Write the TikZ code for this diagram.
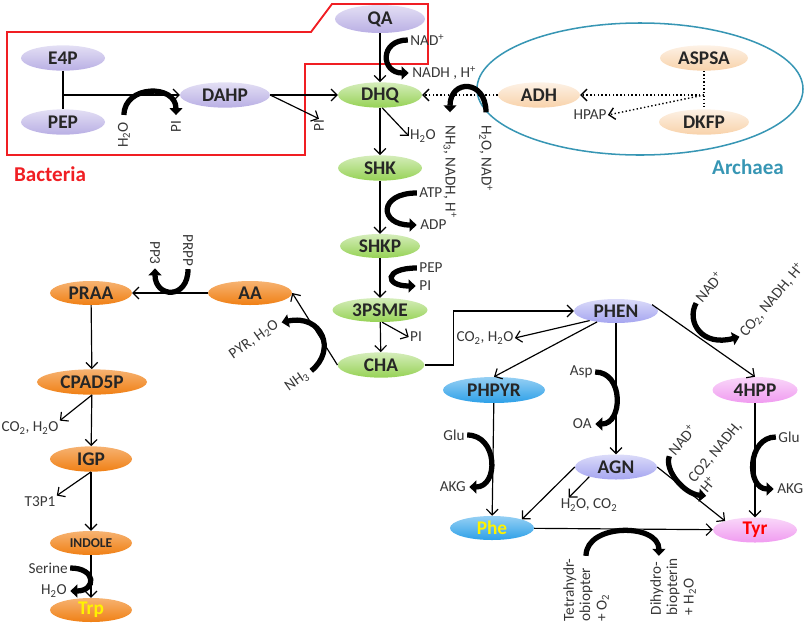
\documentclass[tikz,border=0pt]{standalone}
\usepackage{fontspec}
\setmainfont{Carlito}
\usepackage{tikz}
\usetikzlibrary{arrows.meta,shapes.geometric,positioning}
\definecolor{bactred}{RGB}{240,30,35}
\definecolor{archteal}{RGB}{55,150,180}
\definecolor{lblgray}{RGB}{55,55,55}
\definecolor{purpc}{RGB}{185,175,228}
\definecolor{perc}{RGB}{165,165,240}
\definecolor{grnc}{RGB}{150,210,85}
\definecolor{orgc}{RGB}{240,128,20}
\definecolor{pchc}{RGB}{248,210,170}
\definecolor{bluc}{RGB}{45,160,232}
\definecolor{pnkc}{RGB}{240,155,240}
\newcommand{\ssub}[1]{\textsubscript{#1}}
\newcommand{\ssup}[1]{\textsuperscript{#1}}
\tikzset{
  mol/.style={ellipse,inner sep=0pt,minimum width=2.52cm,minimum height=0.76cm,%
    font=\fontsize{16.5}{18}\selectfont\bfseries,text=black!85},
  purp/.style={top color=purpc!40!white,bottom color=purpc},
  peri/.style={top color=perc!40!white,bottom color=perc},
  grn/.style={top color=grnc!40!white,bottom color=grnc},
  orng/.style={top color=orgc!60!white,bottom color=orgc},
  pch/.style={top color=pchc!30!white,bottom color=pchc},
  blu/.style={top color=bluc!50!white,bottom color=bluc},
  pnk/.style={top color=pnkc!40!white,bottom color=pnkc},
  lbl/.style={inner sep=1pt,font=\fontsize{13}{14}\selectfont,text=lblgray},
  arr/.style={line width=1pt,-{Straight Barb[length=5pt,width=10pt]}},
  link/.style={line width=1pt},
  dotarr/.style={line width=1.2pt,dotted,-{Straight Barb[length=5pt,width=10pt]}},
  cofac/.style={line width=4.5pt,-{Triangle[length=6pt,width=11pt]}}
}
\begin{document}
\begin{tikzpicture}[x=0.03cm,y=-0.03cm]
\useasboundingbox (0,0) rectangle (809,633);

% boxes
\draw[bactred,line width=1.6pt] (7,32) -- (311,32) -- (332,4) -- (428,4) -- (428,64)
  -- (305,64) -- (305,155) -- (7,155) -- cycle;
\node[font=\fontsize{18}{20}\selectfont\bfseries,text=bactred] (bact) at (50,174) {Bacteria};
\node[draw=archteal,line width=1.3pt,ellipse,inner sep=0pt,minimum width=9.78cm,
  minimum height=3.96cm] (archaea) at (640,89) {};
\node[font=\fontsize{18}{20}\selectfont\bfseries,text=archteal] (arch) at (748,167) {Archaea};

% molecules
\node[mol,purp] (E4P) at (63,58) {E4P};
\node[mol,purp] (PEP) at (63,122) {PEP};
\node[mol,purp,minimum width=2.7cm] (DAHP) at (225,95) {DAHP};
\node[mol,purp,minimum width=2.7cm,minimum height=0.84cm] (QA) at (380,19) {QA};
\node[mol,grn] (DHQ) at (380,95) {DHQ};
\node[mol,grn] (SHK) at (380,168) {SHK};
\node[mol,grn,minimum width=2.4cm,minimum height=0.72cm] (SHKP) at (380,246) {SHKP};
\node[mol,grn,minimum width=2.85cm,minimum height=0.72cm] (PSME) at (380,310) {3PSME};
\node[mol,grn,minimum width=2.6cm] (CHA) at (381,365) {CHA};
\node[mol,pch,minimum width=2.46cm] (ADH) at (539,95) {ADH};
\node[mol,pch,minimum width=2.64cm] (ASPSA) at (704,58) {ASPSA};
\node[mol,pch,minimum width=2.7cm] (DKFP) at (704,122) {DKFP};

\node[mol,orng,minimum height=0.72cm] (AA) at (250,293) {AA};
\node[mol,orng,minimum width=2.46cm,minimum height=0.72cm] (PRAA) at (91,293) {PRAA};
\node[mol,orng,minimum width=3.3cm] (CPAD) at (92,382) {CPAD5P};
\node[mol,orng,minimum width=2.46cm] (IGP) at (91,459) {IGP};
\node[mol,orng,minimum width=2.46cm,minimum height=0.72cm,
  font=\fontsize{11.5}{13}\selectfont\bfseries] (INDOLE) at (91,543) {INDOLE};
\node[mol,orng,minimum width=2.46cm,minimum height=0.72cm,text=yellow] (Trp) at (91,610) {Trp};

\node[mol,peri,minimum height=0.72cm] (PHEN) at (616,311) {PHEN};
\node[mol,blu,minimum width=3.06cm,minimum height=0.78cm] (PHPYR) at (494,390) {PHPYR};
\node[mol,pnk,minimum width=2.55cm,minimum height=0.78cm] (HPP) at (755,390) {4HPP};
\node[mol,peri,minimum width=2.46cm,minimum height=0.75cm] (AGN) at (616,467) {AGN};
\node[mol,blu,minimum height=0.72cm,text=yellow] (Phe) at (492,528) {Phe};
\node[mol,pnk,minimum height=0.75cm,text=red] (Tyr) at (755,530) {Tyr};

% labels
\node[lbl,rotate=90] (h2oA) at (124,135) {H\ssub{2}O};
\node[lbl,rotate=90] (piA) at (176,127) {PI};
\node[lbl,rotate=90] (piB) at (319,126) {PI};
\node[lbl,anchor=west] (nadA) at (409,40) {NAD\ssup{+}};
\node[lbl,anchor=west] (nadhA) at (411,73) {NADH , H\ssup{+}};
\node[lbl] (h2oB) at (423,136) {H\ssub{2}O};
\node[lbl,rotate=-90,anchor=west] (h2oC) at (486,124) {H\ssub{2}O, NAD\ssup{+}};
\node[lbl,rotate=-90,anchor=west] (nh3A) at (450,124) {NH\ssub{3}, NADH, H\ssup{+}};
\node[lbl] (hpap) at (590,115) {HPAP};
\node[lbl,anchor=west] (atp) at (418,193) {ATP};
\node[lbl,anchor=west] (adp) at (419,225) {ADP};
\node[lbl,anchor=west] (pepB) at (418,268) {PEP};
\node[lbl,anchor=west] (piC) at (418,286) {PI};
\node[lbl] (piD) at (416,337) {PI};
\node[lbl,rotate=35] (pyr) at (254,340) {PYR, H\ssub{2}O};
\node[lbl,rotate=35] (nh3B) at (297,381) {NH\ssub{3}};
\node[lbl,rotate=-90,anchor=east] (prpp) at (188,268) {PRPP};
\node[lbl,rotate=-90,anchor=east] (pp3) at (155,266) {PP3};
\node[lbl] (co2A) at (30,428) {CO\ssub{2}, H\ssub{2}O};
\node[lbl] (t3p1) at (40,502) {T3P1};
\node[lbl,anchor=east] (ser) at (69,568) {Serine};
\node[lbl,anchor=east] (h2oD) at (68,591) {H\ssub{2}O};
\node[lbl] (co2B) at (485,338) {CO\ssub{2}, H\ssub{2}O};
\node[lbl,rotate=50] (nadB) at (709,287) {NAD\ssup{+}};
\node[lbl,rotate=50] (co2C) at (772,300) {CO\ssub{2}, NADH, H\ssup{+}};
\node[lbl,anchor=east] (asp) at (594,372) {Asp};
\node[lbl,anchor=east] (oa) at (593,424) {OA};
\node[lbl,anchor=east] (gluA) at (466,435) {Glu};
\node[lbl,anchor=east] (akgA) at (467,487) {AKG};
\node[lbl,anchor=west] (gluB) at (777,437) {Glu};
\node[lbl,anchor=west] (akgB) at (776,489) {AKG};
\node[lbl] (h2oE) at (589,505) {H\ssub{2}O, CO\ssub{2}};
\node[lbl,rotate=50] (nadC) at (682,440) {NAD\ssup{+}};
\node[lbl,rotate=50,align=left] (co2D) at (721,457) {CO2, NADH,\\H\ssup{+}};
\node[lbl,rotate=90,anchor=east,align=left] (thb) at (586,557) {Tetrahydr-\\obiopter\\+ O\ssub{2}};
\node[lbl,rotate=90,anchor=east,align=left] (dhb) at (673,557) {Dihydro-\\biopterin\\+ H\ssub{2}O};

% bacteria part
\draw[link] (E4P) -- (PEP);
\coordinate (ep) at (63,95);
\draw[arr] (ep) -- (DAHP);
\draw[cofac,shorten <=5pt,shorten >=4pt] (h2oA.east) .. controls +(0,-36) and +(0,-36) .. (piA.east);
\draw[arr] (DAHP) -- (DHQ);
\draw[arr] (DAHP.east) -- (piB.east);
\draw[arr] (QA) -- (DHQ);
\draw[cofac,shorten <=1pt,shorten >=2pt] (nadA.west) .. controls +(-30,0) and +(-30,0) .. (nadhA.west);

% archaea part
\draw[dotarr] (ADH) -- (DHQ);
\draw[link,dotted,line width=1.2pt] (ASPSA) -- (DKFP);
\coordinate (aj) at (704,95);
\draw[dotarr] (aj) -- (ADH);
\draw[dotarr] (aj) -- (hpap.east);
\draw[cofac,shorten <=10pt,shorten >=10pt] (h2oC.west) .. controls +(0,-45) and +(0,-45) .. (nh3A.west);

% shikimate
\draw[arr] (DHQ) -- (SHK);
\draw[arr] (DHQ.-80) -- (h2oB.west);
\draw[arr] (SHK) -- (SHKP);
\draw[cofac,shorten <=1pt,shorten >=2pt] (atp.west) .. controls +(-40,0) and +(-40,0) .. (adp.west);
\draw[arr] (SHKP) -- (PSME);
\draw[cofac,shorten <=1pt,shorten >=2pt] (pepB.west) .. controls +(-34,0) and +(-34,0) .. (piC.west);
\draw[arr] (PSME) -- (CHA);
\draw[arr] (PSME.-80) -- (piD.west);

% tryptophan branch
\draw[arr] (CHA.west) -- (AA.east);
\draw[cofac,shorten <=3pt,shorten >=3pt] (nh3B.east) .. controls (337,350) and (322,314) .. (pyr.east);
\draw[arr] (AA) -- (PRAA);
\draw[cofac,shorten <=1pt,shorten >=2pt] (prpp.east) .. controls +(0,32) and +(0,32) .. (pp3.east);
\draw[arr] (PRAA) -- (CPAD);
\draw[arr] (CPAD) -- (IGP);
\draw[arr] (CPAD.south) -- (co2A.north east);
\draw[arr] (IGP) -- (INDOLE);
\draw[arr] (IGP.south) -- (t3p1.north east);
\draw[arr] (INDOLE) -- (Trp);
\draw[cofac,shorten <=1pt,shorten >=2pt] (ser.east) .. controls +(28,0) and +(28,0) .. (h2oD.east);

% phenylalanine / tyrosine branch
\draw[arr] (CHA.east) -- ++(29,0) |- (PHEN.west);
\draw[arr] (PHEN.200) -- (co2B.east);
\draw[arr] (PHEN.210) -- (PHPYR.north);
\draw[arr] (PHEN) -- (AGN);
\draw[cofac,shorten <=1pt,shorten >=2pt] (asp.east) .. controls +(30,0) and +(30,0) .. (oa.east);
\draw[arr] (PHEN.10) -- (HPP.north);
\draw[cofac,shorten <=2pt,shorten >=2pt] (nadB.west) .. controls (686,322) and (702,347) .. (co2C.west);
\draw[arr] (PHPYR) -- (Phe);
\draw[cofac,shorten <=1pt,shorten >=2pt] (gluA.east) .. controls +(32,0) and +(32,0) .. (akgA.east);
\draw[arr] (AGN.west) -- (Phe.north east);
\draw[arr] (AGN.200) -- ([xshift=8pt]h2oE.north west);
\draw[arr] (AGN.east) -- (Tyr.north west);
\draw[cofac,shorten <=2pt,shorten >=1pt] (nadC.west) .. controls (664,470) and (684,494) .. (co2D.south west);
\draw[arr] (HPP) -- (Tyr);
\draw[cofac,shorten <=1pt,shorten >=2pt] (gluB.west) .. controls +(-30,0) and +(-30,0) .. (akgB.west);
\draw[arr] (Phe) -- (Tyr);
\draw[cofac,shorten <=1pt,shorten >=1pt] (thb.east) .. controls +(0,-34) and +(0,-34) .. ([xshift=-12pt]dhb.east);
\end{tikzpicture}
\end{document}
